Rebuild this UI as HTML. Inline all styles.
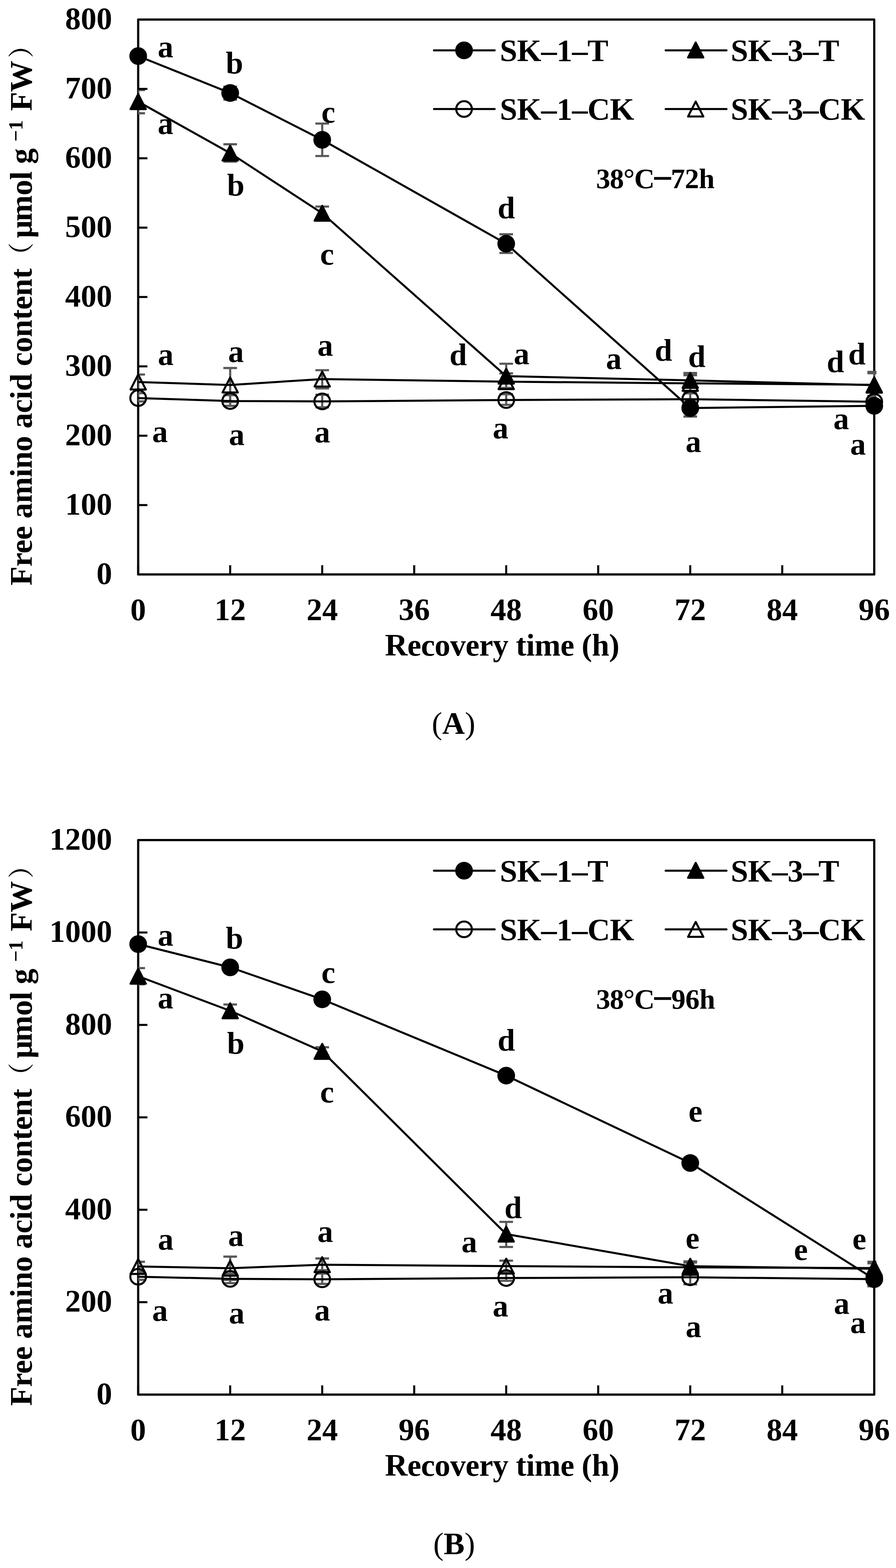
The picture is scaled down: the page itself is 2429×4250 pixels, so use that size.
<!DOCTYPE html>
<html><head><meta charset="utf-8"><title>Free amino acid content</title>
<style>
html,body{margin:0;padding:0;background:#fff;}
body{width:2429px;height:4250px;overflow:hidden;}
svg{display:block;}
.t{font-family:"Liberation Serif","Noto Serif CJK SC",serif;font-weight:bold;font-size:85px;fill:#000;}
.cjk{font-family:"Noto Serif CJK SC","Liberation Serif",serif;font-weight:600;font-size:70px;}
.ls{letter-spacing:-0.67px;}
.sup{font-size:55px;}
.reg{font-weight:normal;}
.dash{stroke:#000;stroke-width:0.8;stroke-linejoin:round;}
</style></head>
<body>
<svg width="2429" height="4250" viewBox="0 0 2429 4250">
<rect width="2429" height="4250" fill="#fff"/>
<defs><clipPath id="clip53"><rect x="374.0" y="-7.0" width="2002.0" height="1624.0"/></clipPath></defs>
<text x="304" y="1582.6" class="t" text-anchor="end">0</text>
<text x="304" y="1394.6" class="t" text-anchor="end">100</text>
<text x="304" y="1206.6" class="t" text-anchor="end">200</text>
<text x="304" y="1018.6" class="t" text-anchor="end">300</text>
<text x="304" y="830.6" class="t" text-anchor="end">400</text>
<text x="304" y="642.6" class="t" text-anchor="end">500</text>
<text x="304" y="454.6" class="t" text-anchor="end">600</text>
<text x="304" y="266.6" class="t" text-anchor="end">700</text>
<text x="304" y="78.6" class="t" text-anchor="end">800</text>
<text x="374.6" y="1680.5" class="t" text-anchor="middle">0</text>
<text x="624.0" y="1680.5" class="t" text-anchor="middle">12</text>
<text x="873.5" y="1680.5" class="t" text-anchor="middle">24</text>
<text x="1122.9" y="1680.5" class="t" text-anchor="middle">36</text>
<text x="1372.3" y="1680.5" class="t" text-anchor="middle">48</text>
<text x="1621.7" y="1680.5" class="t" text-anchor="middle">60</text>
<text x="1871.2" y="1680.5" class="t" text-anchor="middle">72</text>
<text x="2120.6" y="1680.5" class="t" text-anchor="middle">84</text>
<text x="2370.0" y="1680.5" class="t" text-anchor="middle">96</text>
<rect x="374.6" y="53.0" width="1995.4" height="1504.0" fill="none" stroke="#000" stroke-width="6.0" stroke-linejoin="round"/>
<g clip-path="url(#clip53)" stroke="#595959" stroke-width="5.8" fill="none">
<path d="M374.6,1065.7V1088.0M356.1,1065.7H393.1M356.1,1088.0H393.1" />
<path d="M624.0,1071.0V1100.0M605.5,1071.0H642.5M605.5,1100.0H642.5" />
<path d="M873.5,1070.0V1104.0M855.0,1070.0H892.0M855.0,1104.0H892.0" />
<path d="M1372.3,1068.5V1097.4M1353.8,1068.5H1390.8M1353.8,1097.4H1390.8" />
<path d="M1871.2,1066.0V1098.0M1852.7,1066.0H1889.7M1852.7,1098.0H1889.7" />
<path d="M2370.0,1073.0V1105.0M2351.5,1073.0H2388.5M2351.5,1105.0H2388.5" />
<path d="M374.6,1015.2V1056.0M356.1,1015.2H393.1M356.1,1056.0H393.1" />
<path d="M624.0,997.5V1089.5M605.5,997.5H642.5M605.5,1089.5H642.5" />
<path d="M873.5,1003.4V1052.9M855.0,1003.4H892.0M855.0,1052.9H892.0" />
<path d="M1372.3,1012.0V1051.3M1353.8,1012.0H1390.8M1353.8,1051.3H1390.8" />
<path d="M1871.2,1017.0V1061.0M1852.7,1017.0H1889.7M1852.7,1061.0H1889.7" />
<path d="M2370.0,1008.0V1078.0M2351.5,1008.0H2388.5M2351.5,1078.0H2388.5" />
<path d="M374.6,244.0V307.0M356.1,244.0H393.1M356.1,307.0H393.1" />
<path d="M624.0,391.0V438.0M605.5,391.0H642.5M605.5,438.0H642.5" />
<path d="M873.5,559.8V596.0M855.0,559.8H892.0M855.0,596.0H892.0" />
<path d="M1372.3,985.8V1053.0M1353.8,985.8H1390.8M1353.8,1053.0H1390.8" />
<path d="M1871.2,1011.0V1051.0M1852.7,1011.0H1889.7M1852.7,1051.0H1889.7" />
<path d="M2370.0,1011.5V1076.0M2351.5,1011.5H2388.5M2351.5,1076.0H2388.5" />
<path d="M374.6,142.0V162.0M356.1,142.0H393.1M356.1,162.0H393.1" />
<path d="M624.0,234.8V270.0M605.5,234.8H642.5M605.5,270.0H642.5" />
<path d="M873.5,334.8V422.8M855.0,334.8H892.0M855.0,422.8H892.0" />
<path d="M1372.3,635.0V685.6M1353.8,635.0H1390.8M1353.8,685.6H1390.8" />
<path d="M1871.2,1083.0V1129.0M1852.7,1083.0H1889.7M1852.7,1129.0H1889.7" />
<path d="M2370.0,1085.0V1115.0M2351.5,1085.0H2388.5M2351.5,1115.0H2388.5" />
</g>
<path d="M374.6,1557.0H399.6M374.6,1369.0H399.6M374.6,1181.0H399.6M374.6,993.0H399.6M374.6,805.0H399.6M374.6,617.0H399.6M374.6,429.0H399.6M374.6,241.0H399.6M374.6,53.0H399.6M374.6,1557.0V1532.0M624.0,1557.0V1532.0M873.5,1557.0V1532.0M1122.9,1557.0V1532.0M1372.3,1557.0V1532.0M1621.7,1557.0V1532.0M1871.2,1557.0V1532.0M2120.6,1557.0V1532.0M2370.0,1557.0V1532.0" stroke="#000" stroke-width="5.5" fill="none"/>
<polyline points="374.6,1079.0 624.0,1087.0 873.5,1088.0 1372.3,1084.3 1871.2,1082.0 2370.0,1089.0" fill="none" stroke="#000" stroke-width="5.5" stroke-linejoin="round"/>
<polyline points="374.6,1035.5 624.0,1043.5 873.5,1027.4 1372.3,1034.5 1871.2,1039.0 2370.0,1043.0" fill="none" stroke="#000" stroke-width="5.5" stroke-linejoin="round"/>
<polyline points="374.6,275.5 624.0,415.0 873.5,578.0 1372.3,1019.6 1871.2,1031.0 2370.0,1044.0" fill="none" stroke="#000" stroke-width="5.5" stroke-linejoin="round"/>
<polyline points="374.6,152.0 624.0,252.0 873.5,379.0 1372.3,660.6 1871.2,1106.0 2370.0,1100.0" fill="none" stroke="#000" stroke-width="5.5" stroke-linejoin="round"/>
<circle cx="374.6" cy="1079.0" r="21.25" fill="none" stroke="#000" stroke-width="5.5"/>
<circle cx="624.0" cy="1087.0" r="21.25" fill="none" stroke="#000" stroke-width="5.5"/>
<circle cx="873.5" cy="1088.0" r="21.25" fill="none" stroke="#000" stroke-width="5.5"/>
<circle cx="1372.3" cy="1084.3" r="21.25" fill="none" stroke="#000" stroke-width="5.5"/>
<circle cx="1871.2" cy="1082.0" r="21.25" fill="none" stroke="#000" stroke-width="5.5"/>
<circle cx="2370.0" cy="1089.0" r="21.25" fill="none" stroke="#000" stroke-width="5.5"/>
<polygon points="374.6,1015.2 395.3,1055.8 353.9,1055.8" fill="none" stroke="#000" stroke-width="5.5" stroke-linejoin="round"/>
<polygon points="624.0,1023.2 644.7,1063.8 603.3,1063.8" fill="none" stroke="#000" stroke-width="5.5" stroke-linejoin="round"/>
<polygon points="873.5,1007.2 894.2,1047.7 852.8,1047.7" fill="none" stroke="#000" stroke-width="5.5" stroke-linejoin="round"/>
<polygon points="1372.3,1014.2 1393.0,1054.8 1351.6,1054.8" fill="none" stroke="#000" stroke-width="5.5" stroke-linejoin="round"/>
<polygon points="1871.2,1018.8 1891.9,1059.2 1850.5,1059.2" fill="none" stroke="#000" stroke-width="5.5" stroke-linejoin="round"/>
<polygon points="2370.0,1022.8 2390.7,1063.2 2349.3,1063.2" fill="none" stroke="#000" stroke-width="5.5" stroke-linejoin="round"/>
<polygon points="374.6,255.2 395.3,295.8 353.9,295.8" fill="#000" stroke="#000" stroke-width="5.5" stroke-linejoin="round"/>
<polygon points="624.0,394.8 644.7,435.2 603.3,435.2" fill="#000" stroke="#000" stroke-width="5.5" stroke-linejoin="round"/>
<polygon points="873.5,557.8 894.2,598.2 852.8,598.2" fill="#000" stroke="#000" stroke-width="5.5" stroke-linejoin="round"/>
<polygon points="1372.3,999.4 1393.0,1039.8 1351.6,1039.8" fill="#000" stroke="#000" stroke-width="5.5" stroke-linejoin="round"/>
<polygon points="1871.2,1010.8 1891.9,1051.2 1850.5,1051.2" fill="#000" stroke="#000" stroke-width="5.5" stroke-linejoin="round"/>
<polygon points="2370.0,1023.8 2390.7,1064.2 2349.3,1064.2" fill="#000" stroke="#000" stroke-width="5.5" stroke-linejoin="round"/>
<circle cx="374.6" cy="152.0" r="24.0" fill="#000"/>
<circle cx="624.0" cy="252.0" r="24.0" fill="#000"/>
<circle cx="873.5" cy="379.0" r="24.0" fill="#000"/>
<circle cx="1372.3" cy="660.6" r="24.0" fill="#000"/>
<circle cx="1871.2" cy="1106.0" r="24.0" fill="#000"/>
<circle cx="2370.0" cy="1100.0" r="24.0" fill="#000"/>
<text x="427.5" y="155.3" class="t">a</text>
<text x="612.0" y="199.2" class="t">b</text>
<text x="871.3" y="332.3" class="t">c</text>
<text x="427.6" y="362.8" class="t">a</text>
<text x="615.5" y="530.3" class="t">b</text>
<text x="867.7" y="716.9" class="t">c</text>
<text x="1349.1" y="592.0" class="t">d</text>
<text x="1218.6" y="990.1" class="t">d</text>
<text x="1392.7" y="987.1" class="t">a</text>
<text x="1642.7" y="999.6" class="t">a</text>
<text x="1775.1" y="977.8" class="t">d</text>
<text x="1865.6" y="994.6" class="t">d</text>
<text x="1858.5" y="1224.5" class="t">a</text>
<text x="2241.3" y="1008.6" class="t">d</text>
<text x="2299.6" y="987.8" class="t">d</text>
<text x="2259.3" y="1163.3" class="t">a</text>
<text x="2304.8" y="1232.3" class="t">a</text>
<text x="428.0" y="988.5" class="t">a</text>
<text x="618.5" y="980.8" class="t">a</text>
<text x="860.5" y="964.0" class="t">a</text>
<text x="412.5" y="1197.9" class="t">a</text>
<text x="620.6" y="1205.6" class="t">a</text>
<text x="852.5" y="1198.8" class="t">a</text>
<text x="1335.7" y="1188.4" class="t">a</text>
<path d="M1176.5,136.5H1341M1804.5,136.5H1969.5M1176.5,295.5H1341M1804.5,295.5H1969.5" stroke="#000" stroke-width="5.5" stroke-linecap="round"/>
<circle cx="1258.0" cy="136.5" r="24.0" fill="#000"/>
<polygon points="1886.0,115.2 1906.7,155.8 1865.3,155.8" fill="#000" stroke="#000" stroke-width="5.5" stroke-linejoin="round"/>
<circle cx="1258.0" cy="295.5" r="21.25" fill="none" stroke="#000" stroke-width="5.5"/>
<polygon points="1886.0,275.2 1906.7,315.8 1865.3,315.8" fill="none" stroke="#000" stroke-width="5.5" stroke-linejoin="round"/>
<text x="1355" y="166.0" class="t ls">SK–1–T</text>
<text x="1981" y="166.0" class="t ls">SK–3–T</text>
<text x="1355" y="325.0" class="t ls">SK–1–CK</text>
<text x="1981" y="325.0" class="t ls">SK–3–CK</text>
<text x="1616" y="510.0" class="t" style="font-size:77px;letter-spacing:-1.5px">38°C</text>
<text x="1768.5" y="515.8" class="t dash" style="font-size:98px">−</text>
<text x="1818.5" y="510.0" class="t" style="font-size:77px;letter-spacing:-0.5px">72h</text>
<text x="1043.5" y="1776.5" class="t ls">Recovery time (h)</text>
<text transform="translate(85.8,1587.0) rotate(-90)" class="t ls">Free amino acid content<tspan class="cjk" dx="0.7" dy="-3">（</tspan><tspan dx="13" dy="3">μ</tspan><tspan dx="-2.4">mol g</tspan><tspan class="sup" dx="19" dy="-24.5">−1</tspan><tspan dx="4.8" dy="24.5"> FW</tspan><tspan class="cjk" dx="8" dy="-3">）</tspan></text>
<text x="1170.5" y="1988.8" class="t"><tspan class="reg">(</tspan>A<tspan class="reg">)</tspan></text>
<defs><clipPath id="clip2277"><rect x="374.0" y="2217.0" width="2002.0" height="1623.0"/></clipPath></defs>
<text x="304" y="3805.6" class="t" text-anchor="end">0</text>
<text x="304" y="3555.1" class="t" text-anchor="end">200</text>
<text x="304" y="3304.6" class="t" text-anchor="end">400</text>
<text x="304" y="3054.1" class="t" text-anchor="end">600</text>
<text x="304" y="2803.6" class="t" text-anchor="end">800</text>
<text x="304" y="2553.1" class="t" text-anchor="end">1000</text>
<text x="304" y="2302.6" class="t" text-anchor="end">1200</text>
<text x="374.6" y="3903.5" class="t" text-anchor="middle">0</text>
<text x="624.0" y="3903.5" class="t" text-anchor="middle">12</text>
<text x="873.5" y="3903.5" class="t" text-anchor="middle">24</text>
<text x="1122.9" y="3903.5" class="t" text-anchor="middle">96</text>
<text x="1372.3" y="3903.5" class="t" text-anchor="middle">48</text>
<text x="1621.7" y="3903.5" class="t" text-anchor="middle">60</text>
<text x="1871.2" y="3903.5" class="t" text-anchor="middle">72</text>
<text x="2120.6" y="3903.5" class="t" text-anchor="middle">84</text>
<text x="2370.0" y="3903.5" class="t" text-anchor="middle">96</text>
<rect x="374.6" y="2277.0" width="1995.4" height="1503.0" fill="none" stroke="#000" stroke-width="6.0" stroke-linejoin="round"/>
<g clip-path="url(#clip2277)" stroke="#595959" stroke-width="5.8" fill="none">
<path d="M374.6,3449.0V3469.0M356.1,3449.0H393.1M356.1,3469.0H393.1" />
<path d="M624.0,3452.0V3478.0M605.5,3452.0H642.5M605.5,3478.0H642.5" />
<path d="M873.5,3452.0V3480.0M855.0,3452.0H892.0M855.0,3480.0H892.0" />
<path d="M1372.3,3450.0V3471.6M1353.8,3450.0H1390.8M1353.8,3471.6H1390.8" />
<path d="M1871.2,3443.0V3481.0M1852.7,3443.0H1889.7M1852.7,3481.0H1889.7" />
<path d="M2370.0,3450.0V3484.0M2351.5,3450.0H2388.5M2351.5,3484.0H2388.5" />
<path d="M374.6,3420.0V3445.0M356.1,3420.0H393.1M356.1,3445.0H393.1" />
<path d="M624.0,3406.0V3469.0M605.5,3406.0H642.5M605.5,3469.0H642.5" />
<path d="M873.5,3411.0V3443.0M855.0,3411.0H892.0M855.0,3443.0H892.0" />
<path d="M1372.3,3417.0V3446.0M1353.8,3417.0H1390.8M1353.8,3446.0H1390.8" />
<path d="M1871.2,3422.0V3448.0M1852.7,3422.0H1889.7M1852.7,3448.0H1889.7" />
<path d="M2370.0,3424.0V3450.0M2351.5,3424.0H2388.5M2351.5,3450.0H2388.5" />
<path d="M374.6,2624.0V2668.0M356.1,2624.0H393.1M356.1,2668.0H393.1" />
<path d="M624.0,2722.6V2757.0M605.5,2722.6H642.5M605.5,2757.0H642.5" />
<path d="M873.5,2838.5V2861.0M855.0,2838.5H892.0M855.0,2861.0H892.0" />
<path d="M1372.3,3311.9V3379.9M1353.8,3311.9H1390.8M1353.8,3379.9H1390.8" />
<path d="M1871.2,3419.0V3445.0M1852.7,3419.0H1889.7M1852.7,3445.0H1889.7" />
<path d="M2370.0,3420.0V3458.0M2351.5,3420.0H2388.5M2351.5,3458.0H2388.5" />
<path d="M374.6,2549.0V2569.0M356.1,2549.0H393.1M356.1,2569.0H393.1" />
<path d="M624.0,2612.0V2632.0M605.5,2612.0H642.5M605.5,2632.0H642.5" />
<path d="M873.5,2698.0V2718.0M855.0,2698.0H892.0M855.0,2718.0H892.0" />
<path d="M1372.3,2905.0V2925.0M1353.8,2905.0H1390.8M1353.8,2925.0H1390.8" />
<path d="M1871.2,3142.0V3162.0M1852.7,3142.0H1889.7M1852.7,3162.0H1889.7" />
<path d="M2370.0,3447.0V3486.5M2351.5,3447.0H2388.5M2351.5,3486.5H2388.5" />
</g>
<path d="M374.6,3780.0H399.6M374.6,3529.5H399.6M374.6,3279.0H399.6M374.6,3028.5H399.6M374.6,2778.0H399.6M374.6,2527.5H399.6M374.6,2277.0H399.6M374.6,3780.0V3755.0M624.0,3780.0V3755.0M873.5,3780.0V3755.0M1122.9,3780.0V3755.0M1372.3,3780.0V3755.0M1621.7,3780.0V3755.0M1871.2,3780.0V3755.0M2120.6,3780.0V3755.0M2370.0,3780.0V3755.0" stroke="#000" stroke-width="5.5" fill="none"/>
<polyline points="374.6,3460.5 624.0,3466.3 873.5,3467.6 1372.3,3464.0 1871.2,3462.0 2370.0,3467.0" fill="none" stroke="#000" stroke-width="5.5" stroke-linejoin="round"/>
<polyline points="374.6,3432.7 624.0,3437.5 873.5,3427.9 1372.3,3431.8 1871.2,3435.0 2370.0,3437.0" fill="none" stroke="#000" stroke-width="5.5" stroke-linejoin="round"/>
<polyline points="374.6,2646.0 624.0,2739.7 873.5,2849.7 1372.3,3345.0 1871.2,3432.0 2370.0,3439.0" fill="none" stroke="#000" stroke-width="5.5" stroke-linejoin="round"/>
<polyline points="374.6,2559.0 624.0,2622.0 873.5,2708.7 1372.3,2915.4 1871.2,3152.3 2370.0,3466.8" fill="none" stroke="#000" stroke-width="5.5" stroke-linejoin="round"/>
<circle cx="374.6" cy="3460.5" r="21.25" fill="none" stroke="#000" stroke-width="5.5"/>
<circle cx="624.0" cy="3466.3" r="21.25" fill="none" stroke="#000" stroke-width="5.5"/>
<circle cx="873.5" cy="3467.6" r="21.25" fill="none" stroke="#000" stroke-width="5.5"/>
<circle cx="1372.3" cy="3464.0" r="21.25" fill="none" stroke="#000" stroke-width="5.5"/>
<circle cx="1871.2" cy="3462.0" r="21.25" fill="none" stroke="#000" stroke-width="5.5"/>
<circle cx="2370.0" cy="3467.0" r="21.25" fill="none" stroke="#000" stroke-width="5.5"/>
<polygon points="374.6,3412.4 395.3,3452.9 353.9,3452.9" fill="none" stroke="#000" stroke-width="5.5" stroke-linejoin="round"/>
<polygon points="624.0,3417.2 644.7,3457.8 603.3,3457.8" fill="none" stroke="#000" stroke-width="5.5" stroke-linejoin="round"/>
<polygon points="873.5,3407.7 894.2,3448.2 852.8,3448.2" fill="none" stroke="#000" stroke-width="5.5" stroke-linejoin="round"/>
<polygon points="1372.3,3411.6 1393.0,3452.1 1351.6,3452.1" fill="none" stroke="#000" stroke-width="5.5" stroke-linejoin="round"/>
<polygon points="1871.2,3414.8 1891.9,3455.2 1850.5,3455.2" fill="none" stroke="#000" stroke-width="5.5" stroke-linejoin="round"/>
<polygon points="2370.0,3416.8 2390.7,3457.2 2349.3,3457.2" fill="none" stroke="#000" stroke-width="5.5" stroke-linejoin="round"/>
<polygon points="374.6,2625.8 395.3,2666.2 353.9,2666.2" fill="#000" stroke="#000" stroke-width="5.5" stroke-linejoin="round"/>
<polygon points="624.0,2719.4 644.7,2759.9 603.3,2759.9" fill="#000" stroke="#000" stroke-width="5.5" stroke-linejoin="round"/>
<polygon points="873.5,2829.4 894.2,2869.9 852.8,2869.9" fill="#000" stroke="#000" stroke-width="5.5" stroke-linejoin="round"/>
<polygon points="1372.3,3324.8 1393.0,3365.2 1351.6,3365.2" fill="#000" stroke="#000" stroke-width="5.5" stroke-linejoin="round"/>
<polygon points="1871.2,3411.8 1891.9,3452.2 1850.5,3452.2" fill="#000" stroke="#000" stroke-width="5.5" stroke-linejoin="round"/>
<polygon points="2370.0,3418.8 2390.7,3459.2 2349.3,3459.2" fill="#000" stroke="#000" stroke-width="5.5" stroke-linejoin="round"/>
<circle cx="374.6" cy="2559.0" r="24.0" fill="#000"/>
<circle cx="624.0" cy="2622.0" r="24.0" fill="#000"/>
<circle cx="873.5" cy="2708.7" r="24.0" fill="#000"/>
<circle cx="1372.3" cy="2915.4" r="24.0" fill="#000"/>
<circle cx="1871.2" cy="3152.3" r="24.0" fill="#000"/>
<circle cx="2370.0" cy="3466.8" r="24.0" fill="#000"/>
<text x="427.6" y="2562.5" class="t">a</text>
<text x="612.0" y="2570.6" class="t">b</text>
<text x="871.3" y="2663.6" class="t">c</text>
<text x="427.6" y="2733.3" class="t">a</text>
<text x="615.5" y="2855.7" class="t">b</text>
<text x="867.7" y="2987.7" class="t">c</text>
<text x="1349.1" y="2847.6" class="t">d</text>
<text x="1367.6" y="3302.4" class="t">d</text>
<text x="1250.9" y="3393.8" class="t">a</text>
<text x="1335.5" y="3567.5" class="t">a</text>
<text x="1858.6" y="3383.6" class="t">e</text>
<text x="1782.8" y="3533.1" class="t">a</text>
<text x="1858.8" y="3623.5" class="t">a</text>
<text x="2152.3" y="3414.8" class="t">e</text>
<text x="2310.8" y="3385.7" class="t">e</text>
<text x="2260.6" y="3560.5" class="t">a</text>
<text x="2304.7" y="3613.4" class="t">a</text>
<text x="428.0" y="3386.5" class="t">a</text>
<text x="618.5" y="3376.5" class="t">a</text>
<text x="860.5" y="3365.5" class="t">a</text>
<text x="412.5" y="3579.6" class="t">a</text>
<text x="620.6" y="3586.9" class="t">a</text>
<text x="852.5" y="3579.2" class="t">a</text>
<text x="1866.5" y="3039.9" class="t">e</text>
<path d="M1176.5,2360.0H1341M1804.5,2360.0H1969.5M1176.5,2519.0H1341M1804.5,2519.0H1969.5" stroke="#000" stroke-width="5.5" stroke-linecap="round"/>
<circle cx="1258.0" cy="2360.0" r="24.0" fill="#000"/>
<polygon points="1886.0,2338.8 1906.7,2379.2 1865.3,2379.2" fill="#000" stroke="#000" stroke-width="5.5" stroke-linejoin="round"/>
<circle cx="1258.0" cy="2519.0" r="21.25" fill="none" stroke="#000" stroke-width="5.5"/>
<polygon points="1886.0,2498.8 1906.7,2539.2 1865.3,2539.2" fill="none" stroke="#000" stroke-width="5.5" stroke-linejoin="round"/>
<text x="1355" y="2389.5" class="t ls">SK–1–T</text>
<text x="1981" y="2389.5" class="t ls">SK–3–T</text>
<text x="1355" y="2548.5" class="t ls">SK–1–CK</text>
<text x="1981" y="2548.5" class="t ls">SK–3–CK</text>
<text x="1616" y="2733.5" class="t" style="font-size:77px;letter-spacing:-1.5px">38°C</text>
<text x="1768.5" y="2739.3" class="t dash" style="font-size:98px">−</text>
<text x="1820" y="2733.5" class="t" style="font-size:77px;letter-spacing:-0.5px">96h</text>
<text x="1043.5" y="4000.0" class="t ls">Recovery time (h)</text>
<text transform="translate(85.8,3810.5) rotate(-90)" class="t ls">Free amino acid content<tspan class="cjk" dx="0.7" dy="-3">（</tspan><tspan dx="13" dy="3">μ</tspan><tspan dx="-2.4">mol g</tspan><tspan class="sup" dx="19" dy="-24.5">−1</tspan><tspan dx="4.8" dy="24.5"> FW</tspan><tspan class="cjk" dx="8" dy="-3">）</tspan></text>
<text x="1174.5" y="4212.9" class="t"><tspan class="reg">(</tspan>B<tspan class="reg">)</tspan></text>
</svg>
</body></html>
